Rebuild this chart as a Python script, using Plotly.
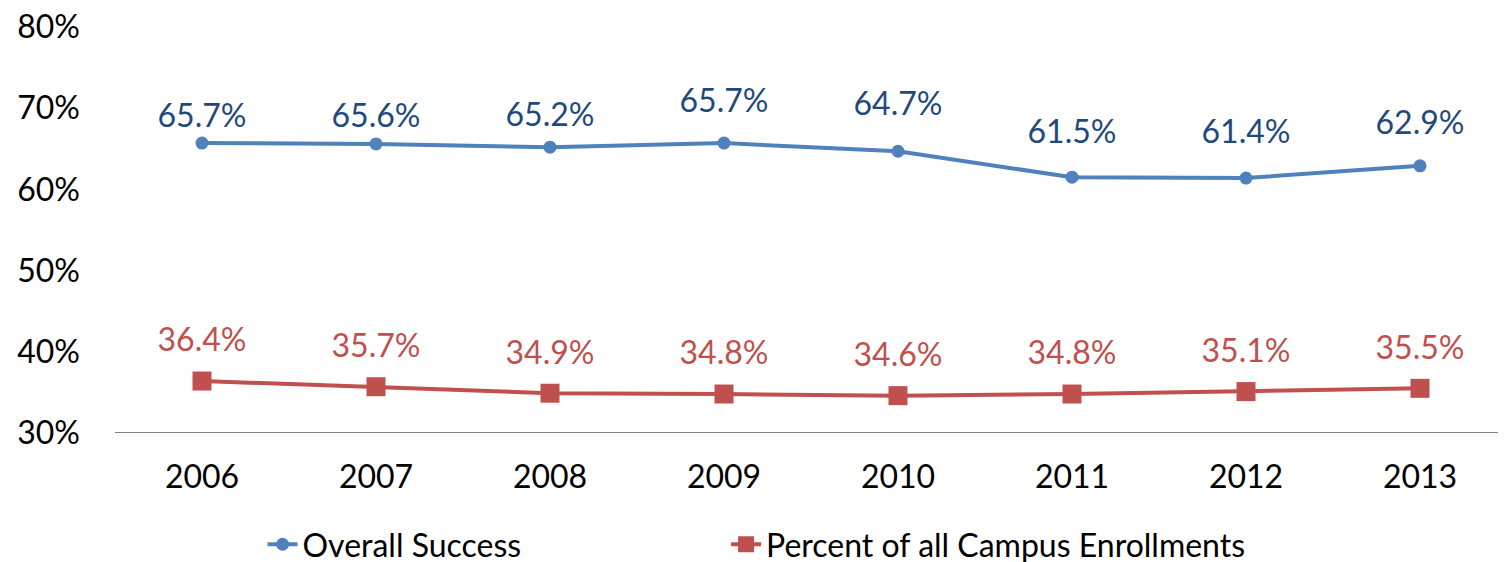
import plotly.graph_objects as go

# Chart data
years = ["2006", "2007", "2008", "2009", "2010", "2011", "2012", "2013"]
overall_success = [0.657, 0.656, 0.652, 0.657, 0.647, 0.615, 0.614, 0.629]
campus_share = [0.364, 0.357, 0.349, 0.348, 0.346, 0.348, 0.351, 0.355]
y_ticks = [0.3, 0.4, 0.5, 0.6, 0.7, 0.8]

FONT = "Lato"
FS = 32
BLUE, BLUE_TXT = "#4F81BD", "#1F497D"
RED = "#C0504D"

# label lift above each point (px), as placed in the original
blue_lift = [25, 26, 29, 37, 41, 40, 40, 38]
red_lift = [36] * len(years)

fig = go.Figure()

fig.add_trace(go.Scatter(
    x=years, y=overall_success, name="Overall Success",
    mode="lines+markers",
    line=dict(color=BLUE, width=4),
    marker=dict(symbol="circle", size=13, color=BLUE),
    legend="legend",
))

fig.add_trace(go.Scatter(
    x=years, y=campus_share, name="Percent of all Campus Enrollments",
    mode="lines+markers",
    line=dict(color=RED, width=4),
    marker=dict(symbol="square", size=19, color=RED),
    legend="legend2",
))

# data labels: invisible markers sized so the text sits at the wanted lift
for vals, lift, col in [(overall_success, blue_lift, BLUE_TXT), (campus_share, red_lift, RED)]:
    fig.add_trace(go.Scatter(
        x=years, y=vals, mode="markers+text",
        marker=dict(size=[2 * (s - 19.5) for s in lift], opacity=0),
        text=[f"{v*100:.1f}%" for v in vals],
        textposition="top center",
        textfont=dict(family=FONT, size=FS, color=col),
        showlegend=False, hoverinfo="skip", cliponaxis=False,
    ))

legend_style = dict(orientation="h", xanchor="left", y=-0.2745, yanchor="middle",
                    font=dict(family=FONT, size=FS, color="black"),
                    bgcolor="rgba(0,0,0,0)")

fig.update_layout(
    width=1506, height=562,
    margin=dict(l=107, r=7, t=19, b=137, autoexpand=False),
    paper_bgcolor="white", plot_bgcolor="white",
    font=dict(family=FONT, size=FS, color="black"),
    showlegend=True,
    legend=dict(x=0.106, **legend_style),
    legend2=dict(x=0.439, **legend_style),
)

fig.update_xaxes(
    type="category", range=[-0.5, 7.5], automargin=False,
    showgrid=False, zeroline=False, showline=False,
    ticks="", ticklabelstandoff=22,
    tickfont=dict(family=FONT, size=FS, color="black"),
)

fig.update_yaxes(
    range=[0.3, 0.8], tickvals=y_ticks, tickformat=".0%", automargin=False,
    showgrid=False, zeroline=False, showline=False,
    ticks="", ticklabelstandoff=34, ticklabeloverflow="allow",
    tickfont=dict(family=FONT, size=FS, color="black"),
)

# baseline along 30%
fig.add_shape(type="line", xref="paper", yref="y", x0=0, x1=1, y0=0.3, y1=0.3,
              line=dict(color="#808080", width=2))

fig.write_html("out.html")
